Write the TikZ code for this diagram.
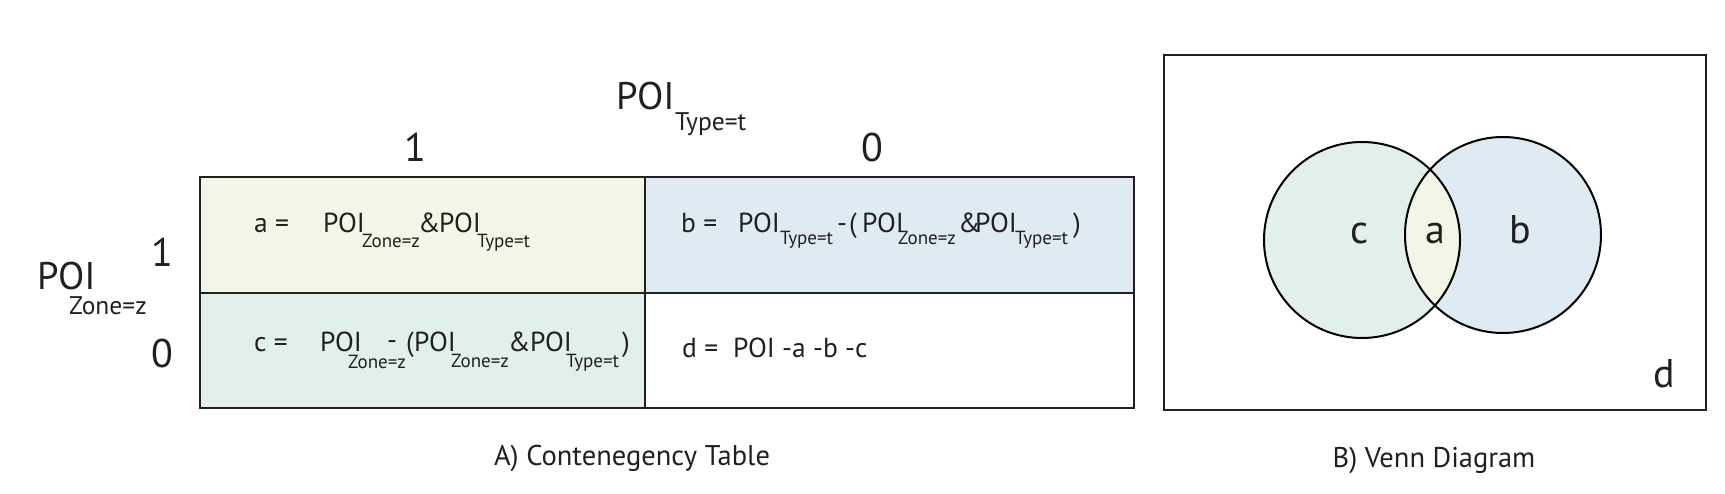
\documentclass[tikz,border=0pt]{standalone}
\usepackage{fontspec}
\setmainfont{PT Sans}
\definecolor{ink}{HTML}{231F20}
\definecolor{cella}{HTML}{F3F6E7}
\definecolor{cellb}{HTML}{DEEBF2}
\definecolor{cellc}{HTML}{E1F0EB}
\begin{document}
\begin{tikzpicture}[x=1pt,y=-1pt,
  txt/.style={inner sep=0pt, anchor=base west, text=ink, font=\fontsize{27.5}{29}\selectfont},
  sub/.style={txt, font=\fontsize{19}{20}\selectfont},
  bigtxt/.style={txt, font=\fontsize{38.5}{40}\selectfont},
  bigsub/.style={txt, font=\fontsize{25.5}{27}\selectfont},
  digit/.style={inner sep=0pt, anchor=base, text=ink, font=\fontsize{40}{42}\selectfont},
  caption/.style={inner sep=0pt, anchor=base, text=ink, font=\fontsize{28.5}{30}\selectfont},
  venn/.style={inner sep=0pt, anchor=base, text=ink, font=\fontsize{40}{42}\selectfont},
  frame/.style={draw=ink, line width=2pt},
  ring/.style={draw=black, line width=2pt}]
\useasboundingbox (0,0) rectangle (1725,494);

% ---- contingency table ----
\fill[cella] (199,176) rectangle (645,293);
\fill[cellb] (645,176) rectangle (1133,293);
\fill[cellc] (199,293) rectangle (645,407);
\node[frame, minimum width=934pt, minimum height=231pt, anchor=north west, inner sep=0pt] (tab) at (199,176) {};
\coordinate (hl) at (199,293);
\coordinate (hr) at (1133,293);
\coordinate (vt) at (645,176);
\coordinate (vb) at (645,407);
\draw[frame] (hl) -- (hr);
\draw[frame] (vt) -- (vb);

% header labels
\node[bigtxt] (tpoi) at (616,110) {POI};
\node[bigsub] (tsub) at (675,131) {Type=t};
\node[digit] (t1) at (415,162) {1};
\node[digit] (t0) at (872,162) {0};
\node[bigtxt] (lpoi) at (37,290) {POI};
\node[bigsub] (lsub) at (69,315) {Zone=z};
\node[digit] (l1) at (162,267) {1};
\node[digit] (l0) at (162,368) {0};

% cell a
\node[txt] (a1) at (254,233) {a =};
\node[txt] (a2) at (323,233) {POI};
\node[sub] (a3) at (362,248) {Zone=z};
\node[txt] (a4) at (418,233) {\&};
\node[txt] (a5) at (439,233) {POI};
\node[sub] (a6) at (477,248) {Type=t};

% cell b
\node[txt] (b1) at (681,233) {b =};
\node[txt] (b2) at (738,233) {POI};
\node[sub] (b3) at (780,245) {Type=t};
\node[txt] (b4) at (837,233) {-};
\node[txt] (b5) at (849,233) {(};
\node[txt] (b6) at (862,233) {POI};
\node[sub] (b7) at (898,245) {Zone=z};
\node[txt] (b8) at (958,233) {\&};
\node[txt] (b9) at (975,233) {POI};
\node[sub] (b10) at (1015,245) {Type=t};
\node[txt] (b11) at (1073,233) {)};

% cell c
\node[txt] (c1) at (254,352) {c =};
\node[txt] (c2) at (320,352) {POI};
\node[sub] (c3) at (348,369) {Zone=z};
\node[txt] (c4) at (387,350) {-};
\node[txt] (c5) at (406,352) {(};
\node[txt] (c6) at (414,352) {POI};
\node[sub] (c7) at (451,367) {Zone=z};
\node[txt] (c8) at (508,352) {\&};
\node[txt] (c9) at (530,352) {POI};
\node[sub] (c10) at (566,367) {Type=t};
\node[txt] (c11) at (622,352) {)};

% cell d
\node[txt] (d1) at (682,358) {d =};
\node[txt] (d2) at (733,358) {POI -a -b -c};

\node[caption] (capA) at (632,465) {A) Contenegency Table};

% ---- Venn diagram ----
\node[frame, minimum width=542pt, minimum height=355pt, anchor=north west, inner sep=0pt] (vbox) at (1163,54) {};
\coordinate (cc) at (1362,240);
\coordinate (bc) at (1503,235);
\fill[cellc] (cc) circle[radius=98];
\fill[cellb] (bc) circle[radius=98];
\begin{scope}
  \clip (cc) circle[radius=98];
  \fill[cella] (bc) circle[radius=98];
\end{scope}
\draw[ring] (cc) circle[radius=98];
\draw[ring] (bc) circle[radius=98];
\node[venn] (vc) at (1360,244) {c};
\node[venn] (va) at (1435,244) {a};
\node[venn] (vb2) at (1520,244) {b};
\node[venn] (vd) at (1664,388) {d};

\node[caption] (capB) at (1434,467) {B) Venn Diagram};
\end{tikzpicture}
\end{document}
